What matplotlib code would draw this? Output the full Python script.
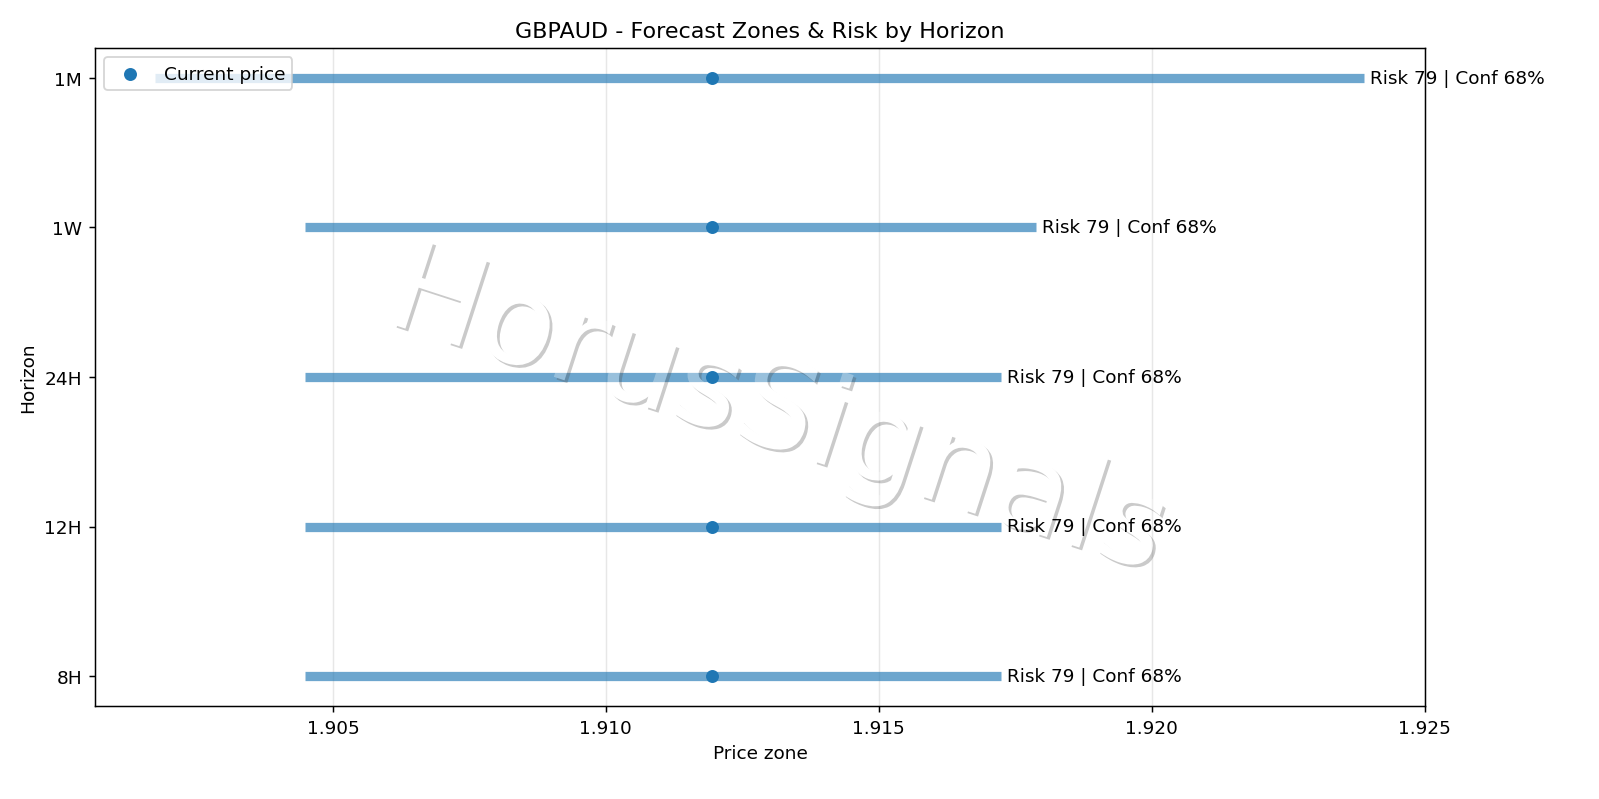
import matplotlib
matplotlib.use("Agg")
import matplotlib.pyplot as plt
import matplotlib.patheffects as pe

# forecast zones per horizon
horizons = ["8H", "12H", "24H", "1W", "1M"]
zone_low = [1.90449, 1.90449, 1.90449, 1.90449, 1.90175]
zone_high = [1.91724, 1.91724, 1.91724, 1.91788, 1.92390]
current_price = 1.91195
risk = [79, 79, 79, 79, 79]
conf = [68, 68, 68, 68, 68]


def fade(img, dpi):
    # watermark is composited as one layer, so the white letters knock out the shadow
    img = img.copy()
    img[..., 3] *= 0.3
    return img, 0, 0


def main():
    fig = plt.figure(figsize=(12, 6), dpi=133.33)
    ax = fig.add_axes([0.0594, 0.1163, 0.8312, 0.8225])
    ypos = list(range(len(horizons)))

    ax.hlines(ypos, zone_low, zone_high, linewidth=5, color="C0", alpha=0.65, zorder=2)
    ax.scatter([current_price] * len(ypos), ypos, color="C0", zorder=4, label="Current price")

    for y, hi, r, c in zip(ypos, zone_high, risk, conf):
        ax.text(hi, y, f" Risk {r} | Conf {c}%", va="center", ha="left",
                fontsize=10, clip_on=False, zorder=5)

    ax.set_yticks(ypos)
    ax.set_yticklabels(horizons)
    ax.set_xlabel("Price zone")
    ax.set_ylabel("Horizon")
    ax.set_title("GBPAUD - Forecast Zones & Risk by Horizon")
    ax.grid(axis="x", alpha=0.3)
    ax.legend(loc="upper left")

    # watermark
    wm = ax.text(0.513, 0.445, "HorusSignals", transform=ax.transAxes,
                 fontsize=67, color="white", rotation=-18,
                 ha="center", va="center", zorder=3,
                 path_effects=[pe.withSimplePatchShadow(offset=(1.5, -1.5),
                                                        shadow_rgbFace=(0.3, 0.3, 0.3),
                                                        alpha=1.0)])
    wm.set_agg_filter(fade)

    fig.savefig("out.png", dpi=133.33)
    plt.close(fig)


if __name__ == "__main__":
    main()
